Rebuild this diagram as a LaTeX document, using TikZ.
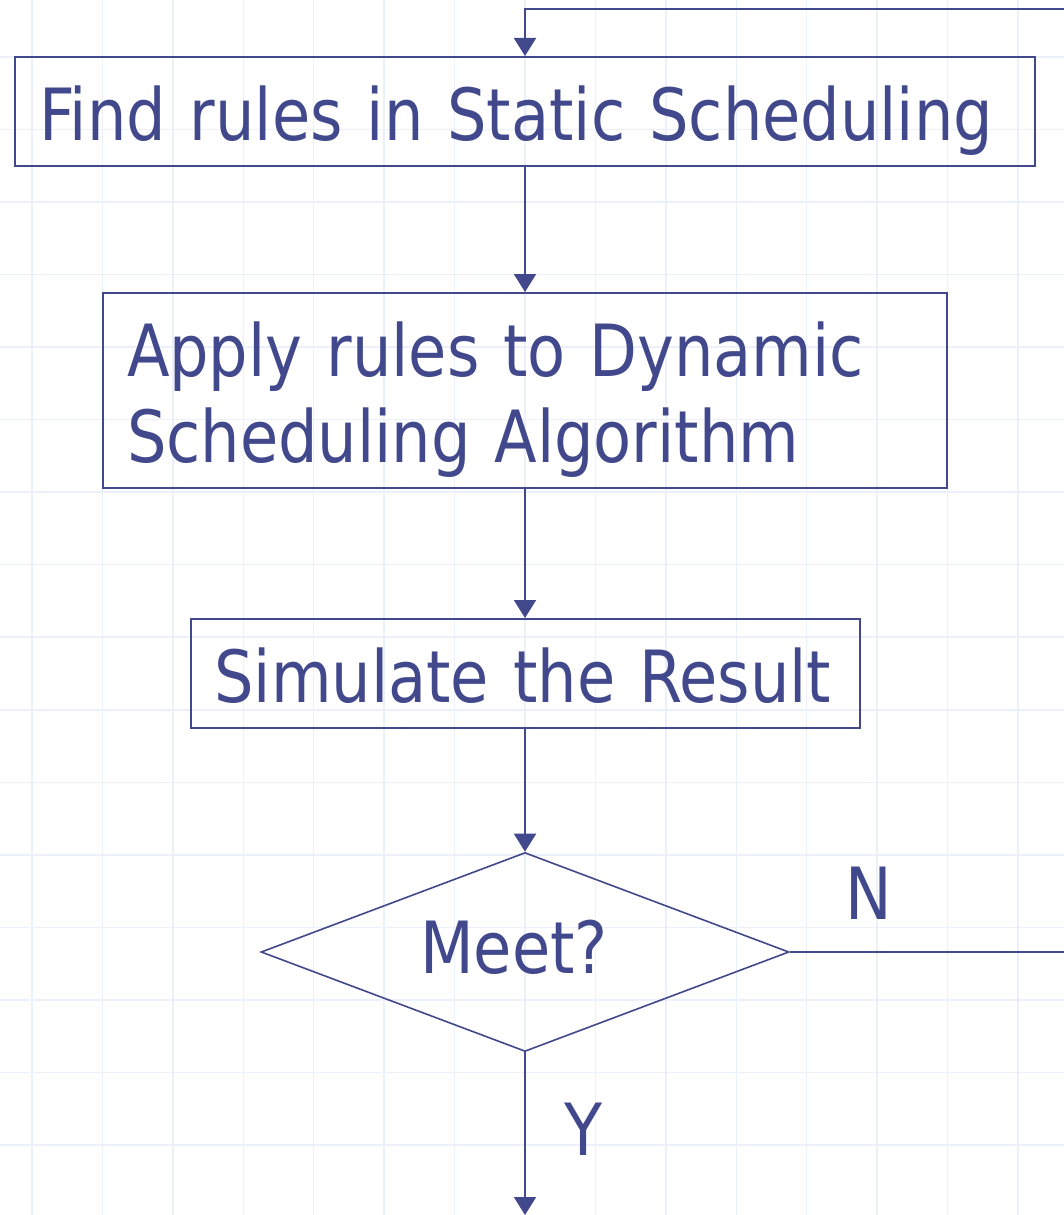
\documentclass[tikz,border=0pt]{standalone}
\usepackage{fontspec}
\setmainfont[FakeStretch=0.96]{DejaVu Sans Condensed}
\usetikzlibrary{arrows.meta,shapes.geometric}
\definecolor{ink}{RGB}{66,72,140}
\definecolor{gridc}{RGB}{236,240,251}
\begin{document}
\begin{tikzpicture}[x=1pt,y=-1pt,
  gridline/.style={draw=gridc, line width=1.5pt},
  box/.style={draw=ink, line width=2pt, inner xsep=24pt, inner ysep=0pt,
    align=left, text=ink, text height=60pt, text depth=3pt,
    font=\fontsize{72}{86}\selectfont},
  decision/.style={draw=ink, line width=1.6pt, shape=diamond, shape aspect=2.65,
    inner sep=0pt, text=ink, text height=45pt, text depth=3pt,
    font=\fontsize{72}{86}\selectfont},
  tag/.style={text=ink, inner sep=0pt, font=\fontsize{72}{86}\selectfont},
  flow/.style={draw=ink, line width=2pt, -{Triangle[width=22pt,length=18pt]}}]

\useasboundingbox (0,0) rectangle (1064,1215);
\clip (0,0) rectangle (1064,1215);
\fill[white] (0,0) rectangle (1064,1215);

% background grid
\foreach \i in {0,...,14} \draw[gridline] ({32+70.43*\i},0) -- ++(0,1215);
\foreach \j in {0,...,15} \draw[gridline] (0,{57+72.53*\j}) -- ++(1064,0);

% process steps
\node[box, text width=972pt, minimum height=109pt] (find) at (525,111.5)
  {Find rules in Static Scheduling};
\node[box, text width=796pt, minimum height=195pt, text depth=89pt] (apply) at (525,390.5)
  {Apply rules to Dynamic\\Scheduling Algorithm};
\node[box, text width=621pt, minimum height=109pt] (sim) at (525,673.5)
  {Simulate the Result};
\node[decision, minimum width=528pt, minimum height=199pt] (meet) at (525,952)
  {Meet?\hspace*{22pt}};

% loop-back and exit points
\coordinate (loopR) at (1100,9);
\coordinate (done) at (525,1215);

% connectors
\draw[flow] (find.south) -- (apply.north);
\draw[flow] (apply.south) -- (sim.north);
\draw[flow] (sim.south) -- (meet.north);
\draw[flow] (meet.south) -- (done);
\draw[flow] (meet.east) -| (loopR) -| (find.north);

% branch labels
\node[tag] (no) at (869,893) {N};
\node[tag] (yes) at (583,1129) {Y};
\end{tikzpicture}
\end{document}
